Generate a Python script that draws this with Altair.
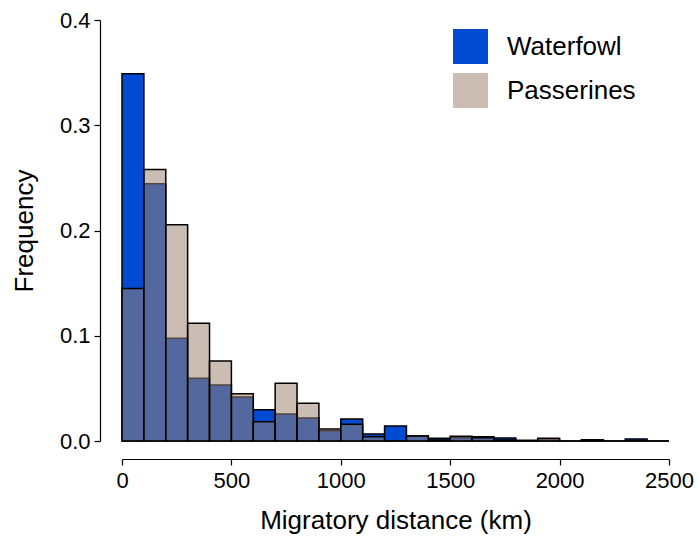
import altair as alt
import pandas as pd

bin_starts = list(range(0, 2500, 100))
waterfowl = [0.349, 0.2445, 0.0976, 0.0596, 0.0532, 0.0418, 0.0297, 0.0257, 0.0219, 0.0098,
             0.021, 0.0067, 0.0143, 0.0048, 0.0026, 0.003, 0.004, 0.0028, 0.0005, 0.001,
             0.0, 0.001, 0.0, 0.002, 0.0]
passerines = [0.145, 0.258, 0.2055, 0.1118, 0.076, 0.045, 0.0183, 0.0548, 0.0358, 0.0114,
              0.016, 0.004, 0.0, 0.0048, 0.001, 0.0045, 0.003, 0.001, 0.0005, 0.0025,
              0.0, 0.0012, 0.0, 0.0, 0.0]
groups = ["Waterfowl", "Passerines"]

BLUE = "#004bd2"
BEIGE_LEGEND = "#cbbdb3"
BEIGE_FILL = "#9d826f"

df_w = pd.DataFrame({"start": bin_starts, "end": [b + 100 for b in bin_starts],
                     "freq": waterfowl, "group": "Waterfowl"})
df_p = pd.DataFrame({"start": bin_starts, "end": [b + 100 for b in bin_starts],
                     "freq": passerines, "group": "Passerines"})

FONT = "Liberation Sans"

x_enc = alt.X("start:Q", scale=alt.Scale(domain=[0, 2500], nice=False, zero=True),
              axis=alt.Axis(title="Migratory distance (km)", values=[0, 500, 1000, 1500, 2000, 2500],
                            format="d", offset=18, grid=False, tickSize=6, labelPadding=5,
                            titlePadding=16, labelFlush=False))
y_enc = alt.Y("freq:Q", scale=alt.Scale(domain=[0, 0.4], nice=False),
              axis=alt.Axis(title="Frequency", values=[0, 0.1, 0.2, 0.3, 0.4], format=".1f",
                            offset=22, grid=False, tickSize=6, labelPadding=4,
                            titlePadding=22, labelFlush=False))

water = alt.Chart(df_w).mark_bar(stroke="black", strokeWidth=1.5, fillOpacity=1).encode(
    x=x_enc, x2="end:Q", y=y_enc, y2=alt.datum(0),
    color=alt.Color("group:N",
                    scale=alt.Scale(domain=groups, range=[BLUE, BEIGE_LEGEND]),
                    legend=alt.Legend(title=None, orient="none", legendX=331, legendY=9,
                                      symbolType="square", symbolSize=1225,
                                      symbolStrokeWidth=0, symbolOpacity=1,
                                      labelFontSize=26, labelFont=FONT, labelOffset=19,
                                      rowPadding=9, padding=0, labelColor="black"))
)

passer = alt.Chart(df_p).mark_bar(stroke="black", strokeWidth=1.5, fill=BEIGE_FILL,
                                  fillOpacity=0.53).encode(
    x="start:Q", x2="end:Q", y="freq:Q", y2=alt.datum(0)
)

chart = alt.layer(water, passer).properties(
    width=547, height=421,
    autosize=alt.AutoSizeParams(type="none"),
    padding={"left": 122, "top": 20, "right": 30, "bottom": 104},
).configure_view(stroke=None).configure_axis(
    labelFont=FONT, titleFont=FONT, labelFontSize=22, titleFontSize=26,
    labelColor="black", titleColor="black", domainColor="black", tickColor="black",
    titleFontWeight="normal", domainWidth=1.2, tickWidth=1.2
)

chart.save("out.html", embed_options={"renderer": "svg", "actions": False})
